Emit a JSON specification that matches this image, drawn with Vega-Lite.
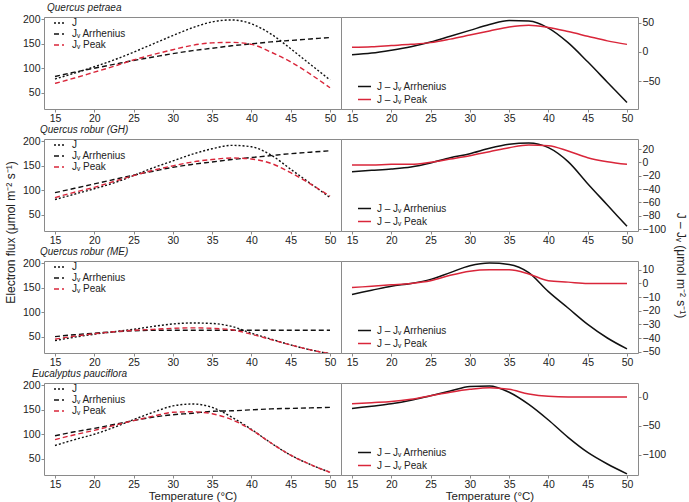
{
"$schema": "https://vega.github.io/schema/vega-lite/v6.json",
"padding": {"left": 3, "top": 2, "right": 2, "bottom": 0},
"background": "white",
"data": {"values": [
{"g":"QP","k":"J","t":15,"v":78},{"g":"QP","k":"J","t":17.5,"v":90},{"g":"QP","k":"J","t":20,"v":103},{"g":"QP","k":"J","t":22.5,"v":117},{"g":"QP","k":"J","t":25,"v":133},{"g":"QP","k":"J","t":27.5,"v":150},{"g":"QP","k":"J","t":30,"v":167},{"g":"QP","k":"J","t":32.5,"v":183},{"g":"QP","k":"J","t":35,"v":195},{"g":"QP","k":"J","t":37.5,"v":199},{"g":"QP","k":"J","t":40,"v":191},{"g":"QP","k":"J","t":42.5,"v":170},{"g":"QP","k":"J","t":45,"v":140},{"g":"QP","k":"J","t":47.5,"v":108},{"g":"QP","k":"J","t":50,"v":76},
{"g":"QP","k":"A","t":15,"v":83},{"g":"QP","k":"A","t":17.5,"v":92},{"g":"QP","k":"A","t":20,"v":100},{"g":"QP","k":"A","t":22.5,"v":108},{"g":"QP","k":"A","t":25,"v":116},{"g":"QP","k":"A","t":27.5,"v":123},{"g":"QP","k":"A","t":30,"v":130},{"g":"QP","k":"A","t":32.5,"v":136},{"g":"QP","k":"A","t":35,"v":141},{"g":"QP","k":"A","t":37.5,"v":146},{"g":"QP","k":"A","t":40,"v":150},{"g":"QP","k":"A","t":42.5,"v":154},{"g":"QP","k":"A","t":45,"v":157},{"g":"QP","k":"A","t":47.5,"v":160},{"g":"QP","k":"A","t":50,"v":163},
{"g":"QP","k":"P","t":15,"v":69},{"g":"QP","k":"P","t":17.5,"v":80},{"g":"QP","k":"P","t":20,"v":92},{"g":"QP","k":"P","t":22.5,"v":104},{"g":"QP","k":"P","t":25,"v":117},{"g":"QP","k":"P","t":27.5,"v":128},{"g":"QP","k":"P","t":30,"v":138},{"g":"QP","k":"P","t":32.5,"v":147},{"g":"QP","k":"P","t":35,"v":152},{"g":"QP","k":"P","t":37.5,"v":153},{"g":"QP","k":"P","t":40,"v":149},{"g":"QP","k":"P","t":42.5,"v":133},{"g":"QP","k":"P","t":45,"v":113},{"g":"QP","k":"P","t":47.5,"v":88},{"g":"QP","k":"P","t":50,"v":60},
{"g":"QP","k":"dA","t":15,"v":-5},{"g":"QP","k":"dA","t":17.5,"v":-2},{"g":"QP","k":"dA","t":20,"v":3},{"g":"QP","k":"dA","t":22.5,"v":9},{"g":"QP","k":"dA","t":25,"v":17},{"g":"QP","k":"dA","t":27.5,"v":27},{"g":"QP","k":"dA","t":30,"v":37},{"g":"QP","k":"dA","t":32.5,"v":47},{"g":"QP","k":"dA","t":35,"v":54},{"g":"QP","k":"dA","t":37.5,"v":53},{"g":"QP","k":"dA","t":40,"v":41},{"g":"QP","k":"dA","t":42.5,"v":16},{"g":"QP","k":"dA","t":45,"v":-17},{"g":"QP","k":"dA","t":47.5,"v":-52},{"g":"QP","k":"dA","t":50,"v":-87},
{"g":"QP","k":"dP","t":15,"v":8},{"g":"QP","k":"dP","t":17.5,"v":9},{"g":"QP","k":"dP","t":20,"v":11},{"g":"QP","k":"dP","t":22.5,"v":13},{"g":"QP","k":"dP","t":25,"v":16},{"g":"QP","k":"dP","t":27.5,"v":22},{"g":"QP","k":"dP","t":30,"v":29},{"g":"QP","k":"dP","t":32.5,"v":36},{"g":"QP","k":"dP","t":35,"v":43},{"g":"QP","k":"dP","t":37.5,"v":46},{"g":"QP","k":"dP","t":40,"v":42},{"g":"QP","k":"dP","t":42.5,"v":35},{"g":"QP","k":"dP","t":45,"v":27},{"g":"QP","k":"dP","t":47.5,"v":19},{"g":"QP","k":"dP","t":50,"v":13},
{"g":"GH","k":"J","t":15,"v":81},{"g":"GH","k":"J","t":17.5,"v":92},{"g":"GH","k":"J","t":20,"v":103},{"g":"GH","k":"J","t":22.5,"v":115},{"g":"GH","k":"J","t":25,"v":130},{"g":"GH","k":"J","t":27.5,"v":146},{"g":"GH","k":"J","t":30,"v":160},{"g":"GH","k":"J","t":32.5,"v":174},{"g":"GH","k":"J","t":35,"v":185},{"g":"GH","k":"J","t":37.5,"v":192},{"g":"GH","k":"J","t":40,"v":189},{"g":"GH","k":"J","t":42.5,"v":172},{"g":"GH","k":"J","t":45,"v":143},{"g":"GH","k":"J","t":47.5,"v":114},{"g":"GH","k":"J","t":50,"v":85},
{"g":"GH","k":"A","t":15,"v":95},{"g":"GH","k":"A","t":17.5,"v":104},{"g":"GH","k":"A","t":20,"v":113},{"g":"GH","k":"A","t":22.5,"v":122},{"g":"GH","k":"A","t":25,"v":131},{"g":"GH","k":"A","t":27.5,"v":139},{"g":"GH","k":"A","t":30,"v":147},{"g":"GH","k":"A","t":32.5,"v":153},{"g":"GH","k":"A","t":35,"v":158},{"g":"GH","k":"A","t":37.5,"v":163},{"g":"GH","k":"A","t":40,"v":167},{"g":"GH","k":"A","t":42.5,"v":171},{"g":"GH","k":"A","t":45,"v":175},{"g":"GH","k":"A","t":47.5,"v":178},{"g":"GH","k":"A","t":50,"v":181},
{"g":"GH","k":"P","t":15,"v":85},{"g":"GH","k":"P","t":17.5,"v":96},{"g":"GH","k":"P","t":20,"v":106},{"g":"GH","k":"P","t":22.5,"v":118},{"g":"GH","k":"P","t":25,"v":130},{"g":"GH","k":"P","t":27.5,"v":141},{"g":"GH","k":"P","t":30,"v":150},{"g":"GH","k":"P","t":32.5,"v":158},{"g":"GH","k":"P","t":35,"v":163},{"g":"GH","k":"P","t":37.5,"v":166},{"g":"GH","k":"P","t":40,"v":164},{"g":"GH","k":"P","t":42.5,"v":155},{"g":"GH","k":"P","t":45,"v":136},{"g":"GH","k":"P","t":47.5,"v":113},{"g":"GH","k":"P","t":50,"v":88},
{"g":"GH","k":"dA","t":15,"v":-14},{"g":"GH","k":"dA","t":17.5,"v":-12},{"g":"GH","k":"dA","t":20,"v":-10},{"g":"GH","k":"dA","t":22.5,"v":-7},{"g":"GH","k":"dA","t":25,"v":-1},{"g":"GH","k":"dA","t":27.5,"v":7},{"g":"GH","k":"dA","t":30,"v":13},{"g":"GH","k":"dA","t":32.5,"v":21},{"g":"GH","k":"dA","t":35,"v":27},{"g":"GH","k":"dA","t":37.5,"v":29},{"g":"GH","k":"dA","t":40,"v":22},{"g":"GH","k":"dA","t":42.5,"v":1},{"g":"GH","k":"dA","t":45,"v":-32},{"g":"GH","k":"dA","t":47.5,"v":-64},{"g":"GH","k":"dA","t":50,"v":-96},
{"g":"GH","k":"dP","t":15,"v":-4},{"g":"GH","k":"dP","t":17.5,"v":-4},{"g":"GH","k":"dP","t":20,"v":-3},{"g":"GH","k":"dP","t":22.5,"v":-3},{"g":"GH","k":"dP","t":25,"v":0},{"g":"GH","k":"dP","t":27.5,"v":5},{"g":"GH","k":"dP","t":30,"v":10},{"g":"GH","k":"dP","t":32.5,"v":16},{"g":"GH","k":"dP","t":35,"v":22},{"g":"GH","k":"dP","t":37.5,"v":26},{"g":"GH","k":"dP","t":40,"v":25},{"g":"GH","k":"dP","t":42.5,"v":17},{"g":"GH","k":"dP","t":45,"v":7},{"g":"GH","k":"dP","t":47.5,"v":1},{"g":"GH","k":"dP","t":50,"v":-3},
{"g":"ME","k":"J","t":15,"v":42},{"g":"ME","k":"J","t":17.5,"v":49},{"g":"ME","k":"J","t":20,"v":55},{"g":"ME","k":"J","t":22.5,"v":60},{"g":"ME","k":"J","t":25,"v":65},{"g":"ME","k":"J","t":27.5,"v":71},{"g":"ME","k":"J","t":30,"v":76},{"g":"ME","k":"J","t":32.5,"v":78},{"g":"ME","k":"J","t":35,"v":77},{"g":"ME","k":"J","t":37.5,"v":71},{"g":"ME","k":"J","t":40,"v":57},{"g":"ME","k":"J","t":42.5,"v":45},{"g":"ME","k":"J","t":45,"v":33},{"g":"ME","k":"J","t":47.5,"v":23},{"g":"ME","k":"J","t":50,"v":15},
{"g":"ME","k":"A","t":15,"v":50},{"g":"ME","k":"A","t":17.5,"v":54},{"g":"ME","k":"A","t":20,"v":57},{"g":"ME","k":"A","t":22.5,"v":60},{"g":"ME","k":"A","t":25,"v":62},{"g":"ME","k":"A","t":27.5,"v":63},{"g":"ME","k":"A","t":30,"v":63},{"g":"ME","k":"A","t":32.5,"v":63},{"g":"ME","k":"A","t":35,"v":63},{"g":"ME","k":"A","t":37.5,"v":63},{"g":"ME","k":"A","t":40,"v":63},{"g":"ME","k":"A","t":42.5,"v":63},{"g":"ME","k":"A","t":45,"v":63},{"g":"ME","k":"A","t":47.5,"v":63},{"g":"ME","k":"A","t":50,"v":63},
{"g":"ME","k":"P","t":15,"v":45},{"g":"ME","k":"P","t":17.5,"v":51},{"g":"ME","k":"P","t":20,"v":56},{"g":"ME","k":"P","t":22.5,"v":60},{"g":"ME","k":"P","t":25,"v":63},{"g":"ME","k":"P","t":27.5,"v":65},{"g":"ME","k":"P","t":30,"v":67},{"g":"ME","k":"P","t":32.5,"v":68},{"g":"ME","k":"P","t":35,"v":67},{"g":"ME","k":"P","t":37.5,"v":64},{"g":"ME","k":"P","t":40,"v":55},{"g":"ME","k":"P","t":42.5,"v":44},{"g":"ME","k":"P","t":45,"v":33},{"g":"ME","k":"P","t":47.5,"v":23},{"g":"ME","k":"P","t":50,"v":15},
{"g":"ME","k":"dA","t":15,"v":-8},{"g":"ME","k":"dA","t":17.5,"v":-5},{"g":"ME","k":"dA","t":20,"v":-2},{"g":"ME","k":"dA","t":22.5,"v":0},{"g":"ME","k":"dA","t":25,"v":3},{"g":"ME","k":"dA","t":27.5,"v":8},{"g":"ME","k":"dA","t":30,"v":13},{"g":"ME","k":"dA","t":32.5,"v":15},{"g":"ME","k":"dA","t":35,"v":14},{"g":"ME","k":"dA","t":37.5,"v":8},{"g":"ME","k":"dA","t":40,"v":-6},{"g":"ME","k":"dA","t":42.5,"v":-18},{"g":"ME","k":"dA","t":45,"v":-30},{"g":"ME","k":"dA","t":47.5,"v":-40},{"g":"ME","k":"dA","t":50,"v":-48},
{"g":"ME","k":"dP","t":15,"v":-3},{"g":"ME","k":"dP","t":17.5,"v":-2},{"g":"ME","k":"dP","t":20,"v":-1},{"g":"ME","k":"dP","t":22.5,"v":0},{"g":"ME","k":"dP","t":25,"v":2},{"g":"ME","k":"dP","t":27.5,"v":6},{"g":"ME","k":"dP","t":30,"v":9},{"g":"ME","k":"dP","t":32.5,"v":10},{"g":"ME","k":"dP","t":35,"v":10},{"g":"ME","k":"dP","t":37.5,"v":7},{"g":"ME","k":"dP","t":40,"v":2},{"g":"ME","k":"dP","t":42.5,"v":1},{"g":"ME","k":"dP","t":45,"v":0},{"g":"ME","k":"dP","t":47.5,"v":0},{"g":"ME","k":"dP","t":50,"v":0},
{"g":"EP","k":"J","t":15,"v":77},{"g":"EP","k":"J","t":17.5,"v":89},{"g":"EP","k":"J","t":20,"v":100},{"g":"EP","k":"J","t":22.5,"v":114},{"g":"EP","k":"J","t":25,"v":130},{"g":"EP","k":"J","t":27.5,"v":145},{"g":"EP","k":"J","t":30,"v":158},{"g":"EP","k":"J","t":32.5,"v":162},{"g":"EP","k":"J","t":35,"v":155},{"g":"EP","k":"J","t":37.5,"v":135},{"g":"EP","k":"J","t":40,"v":110},{"g":"EP","k":"J","t":42.5,"v":82},{"g":"EP","k":"J","t":45,"v":57},{"g":"EP","k":"J","t":47.5,"v":38},{"g":"EP","k":"J","t":50,"v":22},
{"g":"EP","k":"A","t":15,"v":97},{"g":"EP","k":"A","t":17.5,"v":105},{"g":"EP","k":"A","t":20,"v":112},{"g":"EP","k":"A","t":22.5,"v":120},{"g":"EP","k":"A","t":25,"v":128},{"g":"EP","k":"A","t":27.5,"v":135},{"g":"EP","k":"A","t":30,"v":140},{"g":"EP","k":"A","t":32.5,"v":143},{"g":"EP","k":"A","t":35,"v":147},{"g":"EP","k":"A","t":37.5,"v":148},{"g":"EP","k":"A","t":40,"v":150},{"g":"EP","k":"A","t":42.5,"v":152},{"g":"EP","k":"A","t":45,"v":153},{"g":"EP","k":"A","t":47.5,"v":154},{"g":"EP","k":"A","t":50,"v":155},
{"g":"EP","k":"P","t":15,"v":89},{"g":"EP","k":"P","t":17.5,"v":99},{"g":"EP","k":"P","t":20,"v":108},{"g":"EP","k":"P","t":22.5,"v":118},{"g":"EP","k":"P","t":25,"v":128},{"g":"EP","k":"P","t":27.5,"v":137},{"g":"EP","k":"P","t":30,"v":145},{"g":"EP","k":"P","t":32.5,"v":146},{"g":"EP","k":"P","t":35,"v":142},{"g":"EP","k":"P","t":37.5,"v":130},{"g":"EP","k":"P","t":40,"v":109},{"g":"EP","k":"P","t":42.5,"v":82},{"g":"EP","k":"P","t":45,"v":57},{"g":"EP","k":"P","t":47.5,"v":38},{"g":"EP","k":"P","t":50,"v":22},
{"g":"EP","k":"dA","t":15,"v":-20},{"g":"EP","k":"dA","t":17.5,"v":-16},{"g":"EP","k":"dA","t":20,"v":-12},{"g":"EP","k":"dA","t":22.5,"v":-6},{"g":"EP","k":"dA","t":25,"v":2},{"g":"EP","k":"dA","t":27.5,"v":10},{"g":"EP","k":"dA","t":30,"v":18},{"g":"EP","k":"dA","t":32.5,"v":19},{"g":"EP","k":"dA","t":35,"v":8},{"g":"EP","k":"dA","t":37.5,"v":-13},{"g":"EP","k":"dA","t":40,"v":-40},{"g":"EP","k":"dA","t":42.5,"v":-70},{"g":"EP","k":"dA","t":45,"v":-96},{"g":"EP","k":"dA","t":47.5,"v":-116},{"g":"EP","k":"dA","t":50,"v":-133},
{"g":"EP","k":"dP","t":15,"v":-12},{"g":"EP","k":"dP","t":17.5,"v":-10},{"g":"EP","k":"dP","t":20,"v":-8},{"g":"EP","k":"dP","t":22.5,"v":-4},{"g":"EP","k":"dP","t":25,"v":2},{"g":"EP","k":"dP","t":27.5,"v":8},{"g":"EP","k":"dP","t":30,"v":13},{"g":"EP","k":"dP","t":32.5,"v":16},{"g":"EP","k":"dP","t":35,"v":13},{"g":"EP","k":"dP","t":37.5,"v":5},{"g":"EP","k":"dP","t":40,"v":1},{"g":"EP","k":"dP","t":42.5,"v":0},{"g":"EP","k":"dP","t":45,"v":0},{"g":"EP","k":"dP","t":47.5,"v":0},{"g":"EP","k":"dP","t":50,"v":0}
]},
"columns": 2,
"bounds": "flush",
"spacing": {"row": 30, "column": 0},
"resolve": {
  "scale": {"color": "independent", "strokeDash": "independent", "x": "independent", "y": "independent"},
  "legend": {"color": "independent", "strokeDash": "independent"}
},
"concat": [
{
  "width": 297, "height": 92,
  "title": {"text": "Quercus petraea", "dx": 3},
  "transform": [{"filter": "datum.g == 'QP' && (datum.k == 'J' || datum.k == 'A' || datum.k == 'P')"}],
  "mark": {"type": "line", "strokeWidth": 1.4, "interpolate": "monotone", "clip": true},
  "encoding": {
    "x": {"field": "t", "type": "quantitative", "scale": {"domain": [13.6, 51.4], "nice": false, "zero": false}, "axis": {"values": [15,20,25,30,35,40,45,50], "title": null}},
    "y": {"field": "v", "type": "quantitative", "scale": {"domain": [16.5, 205], "nice": false, "zero": false}, "axis": {"values": [50,100,150,200], "title": null}},
    "color": {"field": "k", "type": "nominal", "scale": {"domain": ["J","A","P"], "range": ["#111111","#111111","#d9263a"]},
      "legend": {"title": null, "orient": "none", "legendX": 9, "legendY": 0, "symbolType": "stroke", "symbolSize": 100, "symbolStrokeWidth": 1.4, "labelFontSize": 10, "labelOffset": 7, "rowPadding": 0, "padding": 0, "labelExpr": "datum.label == 'J' ? 'J' : datum.label == 'A' ? 'Jᵥ Arrhenius' : 'Jᵥ Peak'"}},
    "strokeDash": {"field": "k", "type": "nominal", "scale": {"domain": ["J","A","P"], "range": [[2,2],[5,3],[5,3]]},
      "legend": {"title": null, "orient": "none", "legendX": 9, "legendY": 0, "symbolType": "stroke", "symbolSize": 100, "symbolStrokeWidth": 1.4, "labelFontSize": 10, "labelOffset": 7, "rowPadding": 0, "padding": 0, "labelExpr": "datum.label == 'J' ? 'J' : datum.label == 'A' ? 'Jᵥ Arrhenius' : 'Jᵥ Peak'"}}
  }
},
{
  "width": 297, "height": 92,
  "transform": [{"filter": "datum.g == 'QP' && (datum.k == 'dA' || datum.k == 'dP')"}],
  "mark": {"type": "line", "strokeWidth": 1.5, "interpolate": "monotone", "clip": true},
  "encoding": {
    "x": {"field": "t", "type": "quantitative", "scale": {"domain": [13.6, 51.4], "nice": false, "zero": false}, "axis": {"values": [15,20,25,30,35,40,45,50], "title": null}},
    "y": {"field": "v", "type": "quantitative", "scale": {"domain": [-98, 60], "nice": false, "zero": false}, "axis": {"orient": "right", "values": [-50, 0, 50], "title": null}},
    "color": {"field": "k", "type": "nominal", "scale": {"domain": ["dA","dP"], "range": ["#111111","#d9263a"]},
      "legend": {"title": null, "orient": "none", "legendX": 16, "legendY": 62, "symbolType": "stroke", "symbolSize": 169, "symbolStrokeWidth": 1.5, "labelFontSize": 10, "labelOffset": 5, "rowPadding": 0, "padding": 0, "labelExpr": "datum.label == 'dA' ? 'J – Jᵥ Arrhenius' : 'J – Jᵥ Peak'"}}
  }
},
{
  "width": 297, "height": 92,
  "title": {"text": "Quercus robur (GH)", "dx": -4},
  "transform": [{"filter": "datum.g == 'GH' && (datum.k == 'J' || datum.k == 'A' || datum.k == 'P')"}],
  "mark": {"type": "line", "strokeWidth": 1.4, "interpolate": "monotone", "clip": true},
  "encoding": {
    "x": {"field": "t", "type": "quantitative", "scale": {"domain": [13.6, 51.4], "nice": false, "zero": false}, "axis": {"values": [15,20,25,30,35,40,45,50], "title": null}},
    "y": {"field": "v", "type": "quantitative", "scale": {"domain": [16.5, 205], "nice": false, "zero": false}, "axis": {"values": [50,100,150,200], "title": "Electron flux (μmol m⁻² s⁻¹)", "titleY": 93, "titlePadding": 5}},
    "color": {"field": "k", "type": "nominal", "scale": {"domain": ["J","A","P"], "range": ["#111111","#111111","#d9263a"]},
      "legend": {"title": null, "orient": "none", "legendX": 9, "legendY": 0, "symbolType": "stroke", "symbolSize": 100, "symbolStrokeWidth": 1.4, "labelFontSize": 10, "labelOffset": 7, "rowPadding": 0, "padding": 0, "labelExpr": "datum.label == 'J' ? 'J' : datum.label == 'A' ? 'Jᵥ Arrhenius' : 'Jᵥ Peak'"}},
    "strokeDash": {"field": "k", "type": "nominal", "scale": {"domain": ["J","A","P"], "range": [[2,2],[5,3],[5,3]]},
      "legend": {"title": null, "orient": "none", "legendX": 9, "legendY": 0, "symbolType": "stroke", "symbolSize": 100, "symbolStrokeWidth": 1.4, "labelFontSize": 10, "labelOffset": 7, "rowPadding": 0, "padding": 0, "labelExpr": "datum.label == 'J' ? 'J' : datum.label == 'A' ? 'Jᵥ Arrhenius' : 'Jᵥ Peak'"}}
  }
},
{
  "width": 297, "height": 92,
  "transform": [{"filter": "datum.g == 'GH' && (datum.k == 'dA' || datum.k == 'dP')"}],
  "mark": {"type": "line", "strokeWidth": 1.5, "interpolate": "monotone", "clip": true},
  "encoding": {
    "x": {"field": "t", "type": "quantitative", "scale": {"domain": [13.6, 51.4], "nice": false, "zero": false}, "axis": {"values": [15,20,25,30,35,40,45,50], "title": null}},
    "y": {"field": "v", "type": "quantitative", "scale": {"domain": [-103, 35], "nice": false, "zero": false}, "axis": {"orient": "right", "values": [-100,-80,-60,-40,-20,0,20], "title": "J – Jᵥ (μmol m⁻² s⁻¹)", "titleY": 126, "titlePadding": 8}},
    "color": {"field": "k", "type": "nominal", "scale": {"domain": ["dA","dP"], "range": ["#111111","#d9263a"]},
      "legend": {"title": null, "orient": "none", "legendX": 16, "legendY": 62, "symbolType": "stroke", "symbolSize": 169, "symbolStrokeWidth": 1.5, "labelFontSize": 10, "labelOffset": 5, "rowPadding": 0, "padding": 0, "labelExpr": "datum.label == 'dA' ? 'J – Jᵥ Arrhenius' : 'J – Jᵥ Peak'"}}
  }
},
{
  "width": 297, "height": 92,
  "title": {"text": "Quercus robur (ME)", "dx": -4},
  "transform": [{"filter": "datum.g == 'ME' && (datum.k == 'J' || datum.k == 'A' || datum.k == 'P')"}],
  "mark": {"type": "line", "strokeWidth": 1.4, "interpolate": "monotone", "clip": true},
  "encoding": {
    "x": {"field": "t", "type": "quantitative", "scale": {"domain": [13.6, 51.4], "nice": false, "zero": false}, "axis": {"values": [15,20,25,30,35,40,45,50], "title": null}},
    "y": {"field": "v", "type": "quantitative", "scale": {"domain": [16.5, 205], "nice": false, "zero": false}, "axis": {"values": [50,100,150,200], "title": null}},
    "color": {"field": "k", "type": "nominal", "scale": {"domain": ["J","A","P"], "range": ["#111111","#111111","#d9263a"]},
      "legend": {"title": null, "orient": "none", "legendX": 9, "legendY": 0, "symbolType": "stroke", "symbolSize": 100, "symbolStrokeWidth": 1.4, "labelFontSize": 10, "labelOffset": 7, "rowPadding": 0, "padding": 0, "labelExpr": "datum.label == 'J' ? 'J' : datum.label == 'A' ? 'Jᵥ Arrhenius' : 'Jᵥ Peak'"}},
    "strokeDash": {"field": "k", "type": "nominal", "scale": {"domain": ["J","A","P"], "range": [[2,2],[5,3],[5,3]]},
      "legend": {"title": null, "orient": "none", "legendX": 9, "legendY": 0, "symbolType": "stroke", "symbolSize": 100, "symbolStrokeWidth": 1.4, "labelFontSize": 10, "labelOffset": 7, "rowPadding": 0, "padding": 0, "labelExpr": "datum.label == 'J' ? 'J' : datum.label == 'A' ? 'Jᵥ Arrhenius' : 'Jᵥ Peak'"}}
  }
},
{
  "width": 297, "height": 92,
  "transform": [{"filter": "datum.g == 'ME' && (datum.k == 'dA' || datum.k == 'dP')"}],
  "mark": {"type": "line", "strokeWidth": 1.5, "interpolate": "monotone", "clip": true},
  "encoding": {
    "x": {"field": "t", "type": "quantitative", "scale": {"domain": [13.6, 51.4], "nice": false, "zero": false}, "axis": {"values": [15,20,25,30,35,40,45,50], "title": null}},
    "y": {"field": "v", "type": "quantitative", "scale": {"domain": [-51, 16.5], "nice": false, "zero": false}, "axis": {"orient": "right", "values": [-50,-40,-30,-20,-10,0,10], "title": null}},
    "color": {"field": "k", "type": "nominal", "scale": {"domain": ["dA","dP"], "range": ["#111111","#d9263a"]},
      "legend": {"title": null, "orient": "none", "legendX": 16, "legendY": 62, "symbolType": "stroke", "symbolSize": 169, "symbolStrokeWidth": 1.5, "labelFontSize": 10, "labelOffset": 5, "rowPadding": 0, "padding": 0, "labelExpr": "datum.label == 'dA' ? 'J – Jᵥ Arrhenius' : 'J – Jᵥ Peak'"}}
  }
},
{
  "width": 297, "height": 92,
  "title": {"text": "Eucalyptus pauciflora", "dx": -12},
  "transform": [{"filter": "datum.g == 'EP' && (datum.k == 'J' || datum.k == 'A' || datum.k == 'P')"}],
  "mark": {"type": "line", "strokeWidth": 1.4, "interpolate": "monotone", "clip": true},
  "encoding": {
    "x": {"field": "t", "type": "quantitative", "scale": {"domain": [13.6, 51.4], "nice": false, "zero": false}, "axis": {"values": [15,20,25,30,35,40,45,50], "title": "Temperature (°C)", "titlePadding": 1, "titleFontSize": 11.5}},
    "y": {"field": "v", "type": "quantitative", "scale": {"domain": [16.5, 205], "nice": false, "zero": false}, "axis": {"values": [50,100,150,200], "title": null}},
    "color": {"field": "k", "type": "nominal", "scale": {"domain": ["J","A","P"], "range": ["#111111","#111111","#d9263a"]},
      "legend": {"title": null, "orient": "none", "legendX": 9, "legendY": 0, "symbolType": "stroke", "symbolSize": 100, "symbolStrokeWidth": 1.4, "labelFontSize": 10, "labelOffset": 7, "rowPadding": 0, "padding": 0, "labelExpr": "datum.label == 'J' ? 'J' : datum.label == 'A' ? 'Jᵥ Arrhenius' : 'Jᵥ Peak'"}},
    "strokeDash": {"field": "k", "type": "nominal", "scale": {"domain": ["J","A","P"], "range": [[2,2],[5,3],[5,3]]},
      "legend": {"title": null, "orient": "none", "legendX": 9, "legendY": 0, "symbolType": "stroke", "symbolSize": 100, "symbolStrokeWidth": 1.4, "labelFontSize": 10, "labelOffset": 7, "rowPadding": 0, "padding": 0, "labelExpr": "datum.label == 'J' ? 'J' : datum.label == 'A' ? 'Jᵥ Arrhenius' : 'Jᵥ Peak'"}}
  }
},
{
  "width": 297, "height": 92,
  "transform": [{"filter": "datum.g == 'EP' && (datum.k == 'dA' || datum.k == 'dP')"}],
  "mark": {"type": "line", "strokeWidth": 1.5, "interpolate": "monotone", "clip": true},
  "encoding": {
    "x": {"field": "t", "type": "quantitative", "scale": {"domain": [13.6, 51.4], "nice": false, "zero": false}, "axis": {"values": [15,20,25,30,35,40,45,50], "title": "Temperature (°C)", "titlePadding": 1, "titleFontSize": 11.5}},
    "y": {"field": "v", "type": "quantitative", "scale": {"domain": [-135, 24], "nice": false, "zero": false}, "axis": {"orient": "right", "values": [-100,-50,0], "title": null}},
    "color": {"field": "k", "type": "nominal", "scale": {"domain": ["dA","dP"], "range": ["#111111","#d9263a"]},
      "legend": {"title": null, "orient": "none", "legendX": 16, "legendY": 62, "symbolType": "stroke", "symbolSize": 169, "symbolStrokeWidth": 1.5, "labelFontSize": 10, "labelOffset": 5, "rowPadding": 0, "padding": 0, "labelExpr": "datum.label == 'dA' ? 'J – Jᵥ Arrhenius' : 'J – Jᵥ Peak'"}}
  }
}
],
"config": {
  "font": "Liberation Sans",
  "view": {"stroke": "#8a8a8a", "strokeWidth": 1},
  "axis": {"domain": false, "grid": false, "tickColor": "#8a8a8a", "tickSize": 3, "labelFontSize": 10.5, "labelColor": "#222222", "labelPadding": 1, "labelFlush": false, "titleFontWeight": "normal", "titleFontSize": 12, "titleColor": "#222222"},
  "legend": {"labelColor": "#222222", "labelFont": "Liberation Sans"},
  "title": {"fontSize": 10, "fontStyle": "italic", "fontWeight": "normal", "anchor": "start", "frame": "group", "offset": 1, "color": "#222222"}
}
}
